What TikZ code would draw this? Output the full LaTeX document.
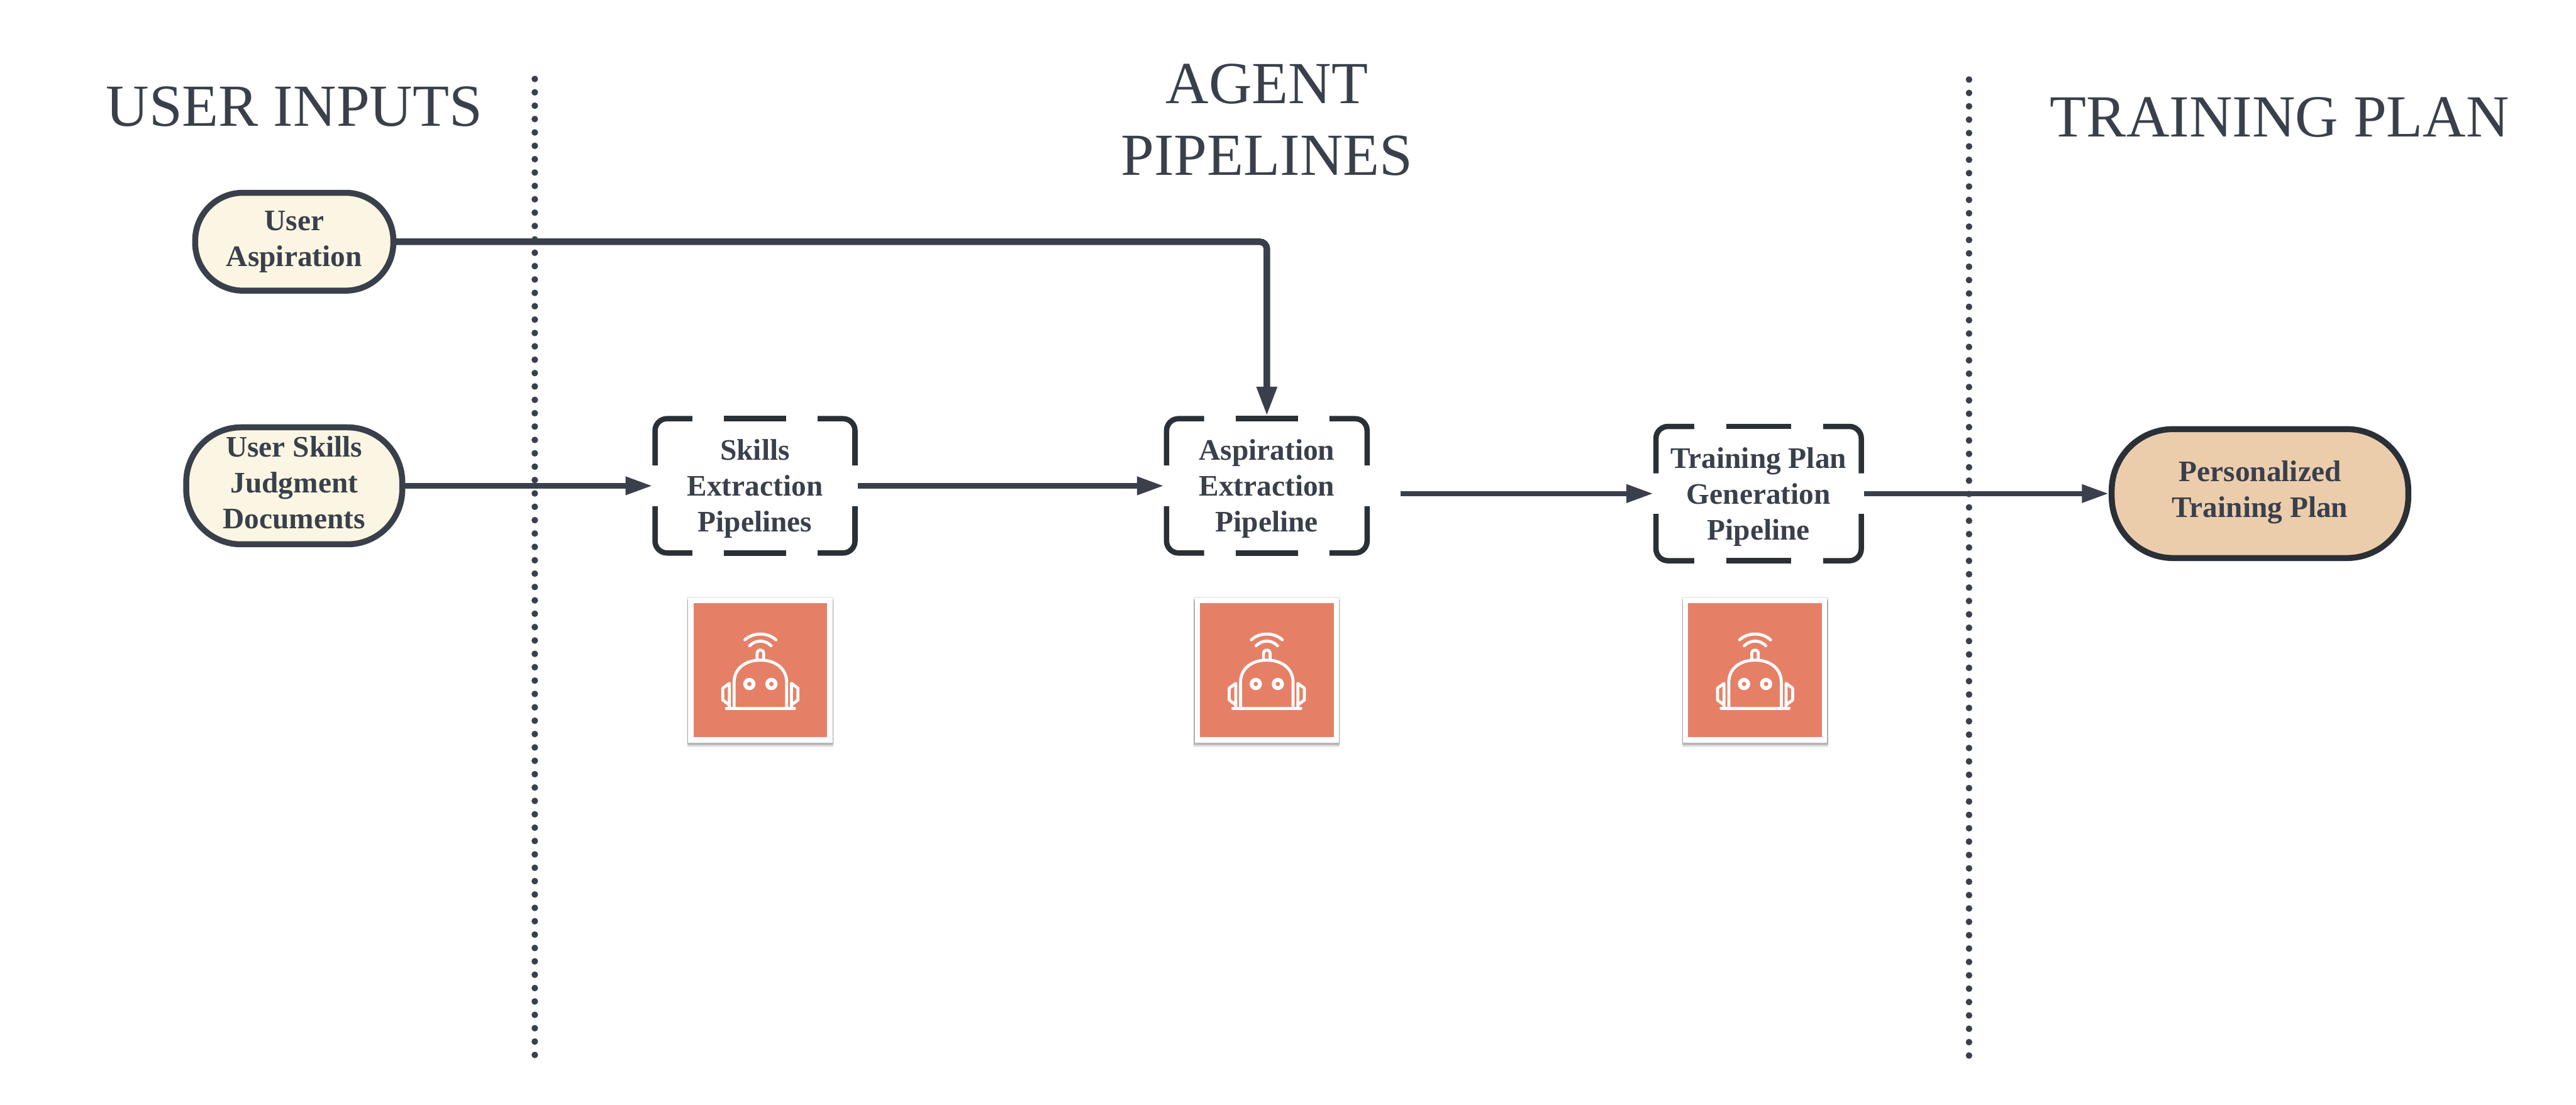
\documentclass[tikz,border=0pt]{standalone}
\usepackage{fontspec}
\setmainfont{Liberation Serif}
\usetikzlibrary{arrows.meta, positioning, shadows}
\definecolor{ink}{HTML}{3A404B}
\definecolor{inkdark}{HTML}{2B3037}
\definecolor{cream}{HTML}{FBF6E3}
\definecolor{sand}{HTML}{EBCDAC}
\definecolor{coral}{HTML}{E58067}

\begin{document}
\begin{tikzpicture}[
    node distance=1cm and 4cm,
    every node/.style={text=ink, inner sep=0pt},
    heading/.style={align=center, font=\fontsize{28.45}{34.1}\selectfont},
    inputPill/.style={rectangle, rounded corners=0.8cm, draw=ink, line width=0.1cm, fill=cream, align=center, font=\fontsize{14.2}{17.07}\selectfont\bfseries},
    outputPill/.style={rectangle, rounded corners=1.03cm, draw=inkdark, line width=0.1cm, fill=sand, align=center, minimum width=4.97cm, minimum height=2.16cm, font=\fontsize{14.2}{17.07}\selectfont\bfseries, execute at end node={\rule[-4.5pt]{0pt}{0pt}}},
    pipeBox/.style={rectangle, outer sep=0pt, align=center, minimum height=2.34cm, font=\fontsize{14.2}{17.07}\selectfont\bfseries, execute at begin node={\rule{0pt}{46.9pt}}},
    pipeFrame/.style={draw=inkdark, line width=0.09cm, rounded corners=0.2cm},
    agentCard/.style={rectangle, draw=white, line width=0.09cm, fill=coral, minimum size=2.33cm,
        general shadow={shadow xshift=0cm, shadow yshift=-0.06cm, shadow scale=1.05, fill=black, opacity=0.10},
        general shadow={shadow xshift=0cm, shadow yshift=-0.03cm, shadow scale=1.05, fill=black, opacity=0.18},
        general shadow={shadow xshift=0cm, shadow yshift=0cm, shadow scale=1.055, fill=black, opacity=0.08}},
    flow/.style={-{Triangle[length=0.45cm, width=0.29cm]}, ink, line width=0.09cm},
    flowBold/.style={-{Triangle[length=0.49cm, width=0.32cm]}, ink, line width=0.11cm, rounded corners=0.12cm},
    divider/.style={ink, line width=0.11cm, line cap=round, dash pattern=on 0pt off 0.224cm},
    pics/robotface/.style={code={
        \begin{scope}[x=0.01cm, y=0.01cm, draw=white, line width=0.05cm, line cap=round, line join=round]
        \draw (-57,-64) -- (57,-64);
        \draw (-44,-64) -- (-44,-20) .. controls (-44,3) and (-25,17) .. (0,17) .. controls (25,17) and (44,3) .. (44,-20) -- (44,-64);
        \draw (-5.5,19) -- (-5.5,28) .. controls (-5.5,36) and (5.5,36) .. (5.5,28) -- (5.5,19);
        \draw (-26,51) .. controls (-12,64) and (12,64) .. (26,51);
        \draw (-18,41) .. controls (-8,51.5) and (8,51.5) .. (18,41);
        \draw[line width=0.065cm] (-18.5,-23) circle (7);
        \draw[line width=0.065cm] (18.5,-23) circle (7);
        \draw (-52,-64) -- (-52,-22) -- (-63,-30) -- (-63,-50) -- (-52,-58);
        \draw (52,-64) -- (52,-22) -- (63,-30) -- (63,-50) -- (52,-58);
        \end{scope}
    }}
]
\useasboundingbox (0,0) rectangle (43.16,18.51);

% ============== Separadores ==============
\coordinate (divLeftTop) at (8.96,17.187);
\coordinate (divLeftBottom) at (8.96,0.825);
\coordinate (divRightTop) at (32.99,17.177);
\coordinate (divRightBottom) at (32.99,0.815);
\draw[divider] (divLeftTop) -- (divLeftBottom);
\draw[divider] (divRightTop) -- (divRightBottom);

% ============== Entradas ==============
\node[inputPill, minimum width=3.32cm, minimum height=1.64cm] (aspiration) at (4.93,14.46) {User\\Aspiration};
\node[inputPill, rounded corners=0.92cm, minimum width=3.62cm, minimum height=1.96cm, below=2.19cm of aspiration, execute at end node={\rule[-3pt]{0pt}{0pt}}] (skillsDocs) {User Skills\\Judgment\\Documents};

% ============== Pipelines ==============
\node[pipeBox, minimum width=3.44cm, right=4.14cm of skillsDocs] (skills) {Skills\\Extraction\\Pipelines};
\node[pipeBox, minimum width=3.45cm, right=5.13cm of skills] (aspire) {Aspiration\\Extraction\\Pipeline};
\node[pipeBox, minimum width=3.53cm, right=4.75cm of aspire, yshift=-0.13cm] (plan) {Training Plan\\Generation\\Pipeline};
\node[outputPill, right=4.10cm of plan] (personal) {Personalized\\Training Plan};

% ============== Marcos punteados ==============
\foreach \n/\d in {skills/0.525, aspire/0.525, plan/0.54} {
    \draw[pipeFrame] ([xshift=0.045cm, yshift=0.34cm]\n.west) |- ([xshift=-2*\d cm, yshift=-0.045cm]\n.north);
    \draw[pipeFrame] ([xshift=-\d cm, yshift=-0.045cm]\n.north) -- ([xshift=\d cm, yshift=-0.045cm]\n.north);
    \draw[pipeFrame] ([xshift=-0.045cm, yshift=0.34cm]\n.east) |- ([xshift=2*\d cm, yshift=-0.045cm]\n.north);
    \draw[pipeFrame] ([xshift=0.045cm, yshift=-0.34cm]\n.west) |- ([xshift=-2*\d cm, yshift=0.045cm]\n.south);
    \draw[pipeFrame] ([xshift=-\d cm, yshift=0.045cm]\n.south) -- ([xshift=\d cm, yshift=0.045cm]\n.south);
    \draw[pipeFrame] ([xshift=-0.045cm, yshift=-0.34cm]\n.east) |- ([xshift=2*\d cm, yshift=0.045cm]\n.south);
}

% ============== Agentes ==============
\node[agentCard, below=0.71cm of skills, xshift=0.09cm] (skillsAgent) {};
\node[agentCard, below=0.71cm of aspire] (aspireAgent) {};
\node[agentCard, below=0.58cm of plan, xshift=-0.06cm] (planAgent) {};
\foreach \n in {skillsAgent, aspireAgent, planAgent} {
    \pic at (\n) {robotface};
}

% ============== Titulos ==============
\node[heading, above=1.05cm of aspiration] (inputsTitle) {USER INPUTS};
\node[heading, above=4.02cm of aspire] (pipelinesTitle) {AGENT\\PIPELINES};
\node[heading, above=4.83cm of personal, xshift=0.33cm] (planTitle) {TRAINING PLAN};

% ============== Conexiones ==============
\coordinate[right=0.52cm of aspire, yshift=-0.13cm] (aspireOut);
\draw[flowBold] (aspiration.east) -| (aspire.north);
\draw[flow] (skillsDocs) -- (skills);
\draw[flow] (skills) -- (aspire);
\draw[flow] (aspireOut) -- (plan.west);
\draw[flow] (plan) -- (personal);
\end{tikzpicture}
\end{document}
